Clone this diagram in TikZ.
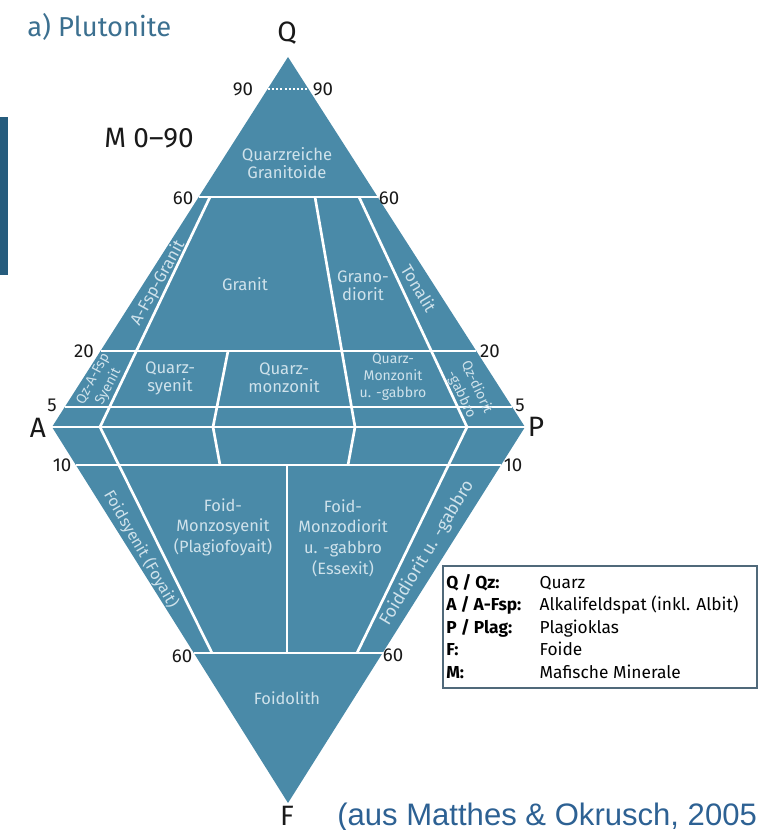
\documentclass[tikz,border=0pt]{standalone}
\usepackage{fontspec}
\setmainfont{Fira Sans}
\newfontfamily\citefont{Liberation Sans}
\definecolor{qfill}{HTML}{4A8AA8}
\definecolor{qtext}{HTML}{CFE2EB}
\definecolor{qtitle}{HTML}{3C7090}
\definecolor{qbar}{HTML}{265C7D}
\definecolor{qcite}{HTML}{2D6193}
\definecolor{qbox}{HTML}{50697A}
\tikzset{
  region/.style={text=qtext, font=\fontsize{12.5}{13.5}\selectfont, align=center, inner sep=0pt},
  regionsm/.style={text=qtext, font=\fontsize{10.5}{12.8}\selectfont, align=center, inner sep=0pt},
  regionlo/.style={text=qtext, font=\fontsize{12.3}{15.4}\selectfont, align=center, inner sep=0pt},
  numlab/.style={font=\fontsize{14}{16}\selectfont, text=black!90, inner sep=0pt},
  vtxlab/.style={font=\fontsize{21}{23}\selectfont, text=black!90, inner sep=0pt},
  divline/.style={white, line width=2pt, line join=round},
  legendbox/.style={draw=qbox, line width=1.4pt, fill=white, inner sep=0pt}
}
\begin{document}
\begin{tikzpicture}[x=0.75pt, y=-0.75pt]
\useasboundingbox (0,0) rectangle (765,830);

% left bar
\fill[qbar] (0,117) rectangle (8,275);

% corners
\coordinate (Q) at (288,57);
\coordinate (A) at (52,427);
\coordinate (P) at (525,427);
\coordinate (F) at (288,803);

% diamond
\fill[qfill] (Q) -- (P) -- (F) -- (A) -- cycle;

% horizontal boundaries
\coordinate (n90l) at (268,89);   \coordinate (n90r) at (308,89);
\coordinate (u60l) at (198.7,197); \coordinate (u60r) at (377.7,197);
\coordinate (u20l) at (100.5,351); \coordinate (u20r) at (476.3,351);
\coordinate (u5l) at (64.8,407);   \coordinate (u5r) at (512.2,407);
\coordinate (l10l) at (75.9,465);  \coordinate (l10r) at (501,465);
\coordinate (l60l) at (193.9,653); \coordinate (l60r) at (382.5,653);

\draw[white, line width=2pt, dash pattern=on 1.5pt off 1.6pt] (n90l) -- (n90r);
\draw[divline] (u60l) -- (u60r);
\draw[divline] (u20l) -- (u20r);
\draw[divline] (u5l) -- (u5r);
\draw[divline] (A) -- (P);
\draw[divline] (l10l) -- (l10r);
\draw[divline] (l60l) -- (l60r);

% oblique boundaries
\coordinate (a1) at (210,197); \coordinate (b1) at (100,427); \coordinate (c1) at (212,653);
\coordinate (a2) at (228,351); \coordinate (b2) at (213,427); \coordinate (c2) at (220,465);
\coordinate (a3) at (315,197); \coordinate (b3) at (355,427); \coordinate (c3) at (348,465);
\coordinate (a4) at (359,197); \coordinate (b4) at (467,427); \coordinate (c4) at (357,653);
\coordinate (a5) at (287,465); \coordinate (c5) at (287,653);
\draw[divline] (a1) -- (b1) -- (c1);
\draw[divline] (a2) -- (b2) -- (c2);
\draw[divline] (a3) -- (b3) -- (c3);
\draw[divline] (a4) -- (b4) -- (c4);
\draw[divline] (a5) -- (c5);

% corner labels
\node[vtxlab] (tQ) at (287,33) {Q};
\node[vtxlab] (tA) at (38,428) {A};
\node[vtxlab] (tP) at (536,427) {P};
\node[vtxlab] (tF) at (287,816) {F};

% scale numbers
\node[numlab] (k90l) at (243,89) {90};
\node[numlab] (k90r) at (323,89) {90};
\node[numlab] (k60l) at (183,198) {60};
\node[numlab] (k60r) at (389,198) {60};
\node[numlab] (k20l) at (84,351) {20};
\node[numlab] (k20r) at (490,351) {20};
\node[numlab] (k5l) at (52,405) {5};
\node[numlab] (k5r) at (520,405) {5};
\node[numlab] (k10l) at (62,465) {10};
\node[numlab] (k10r) at (513,465) {10};
\node[numlab] (k60ll) at (182,656) {60};
\node[numlab] (k60lr) at (393,655) {60};

% titles
\node[anchor=west, inner sep=0pt, text=qtitle, font=\fontsize{20.5}{23}\selectfont] (title) at (27,27) {a) Plutonite};
\node[anchor=west, inner sep=0pt, text=black!90, font=\fontsize{21}{23}\selectfont] (mlab) at (104,138) {M 0–90};

% field names
\node[region] (r1) at (287,163) {Quarzreiche\\Granitoide};
\node[region] (r2) at (245,284) {Granit};
\node[region] (r3) at (363,286) {Grano-\\diorit};
\node[region, rotate=61] (r4) at (158,283) {A-Fsp-Granit};
\node[region, rotate=-59] (r5) at (419,288) {Tonalit};
\node[regionsm, rotate=62] (r6) at (101,383) {Qz-A-Fsp\\Syenit};
\node[region] (r7) at (170,378) {Quarz-\\syenit};
\node[region] (r8) at (284,378) {Quarz-\\monzonit};
\node[regionsm] (r9) at (393,377) {Quarz-\\Monzonit\\u. -gabbro};
\node[regionsm, rotate=-65] (r10) at (469,391) {Qz-diorit\\-gabbro};
\node[regionlo] (r11) at (223,527) {Foid-\\Monzosyenit\\(Plagiofoyait)};
\node[regionlo] (r12) at (343,538) {Foid-\\Monzodiorit\\u. -gabbro\\(Essexit)};
\node[regionlo, font=\fontsize{12}{14}\selectfont, rotate=-60] (r13) at (141,549) {Foidsyenit (Foyait)};
\node[regionlo, font=\fontsize{13.2}{15}\selectfont, rotate=59] (r14) at (427,553) {Foiddiorit u. -gabbro};
\node[regionlo] (r15) at (287,698) {Foidolith};

% legend
\node[legendbox, anchor=north west, minimum width=235.5pt, minimum height=91.5pt] (legend) at (442,565) {};
\node[anchor=north west, inner sep=0pt, font=\fontsize{13}{16.9}\selectfont] (legtext) at (446,572) {%
  \begin{tabular}{@{}p{70pt}@{}l@{}}
  \bfseries Q / Qz: & Quarz\\
  \bfseries A / A-Fsp: & Alkalifeldspat (inkl. Albit)\\
  \bfseries P / Plag: & Plagioklas\\
  \bfseries F: & Foide\\
  \bfseries M: & Mafische Minerale
  \end{tabular}};

% citation
\node[anchor=base west, inner sep=0pt, text=qcite, font=\citefont\fontsize{23.3}{26}\selectfont] (cite) at (337,825) {(aus Matthes \& Okrusch, 2005};
\end{tikzpicture}
\end{document}
